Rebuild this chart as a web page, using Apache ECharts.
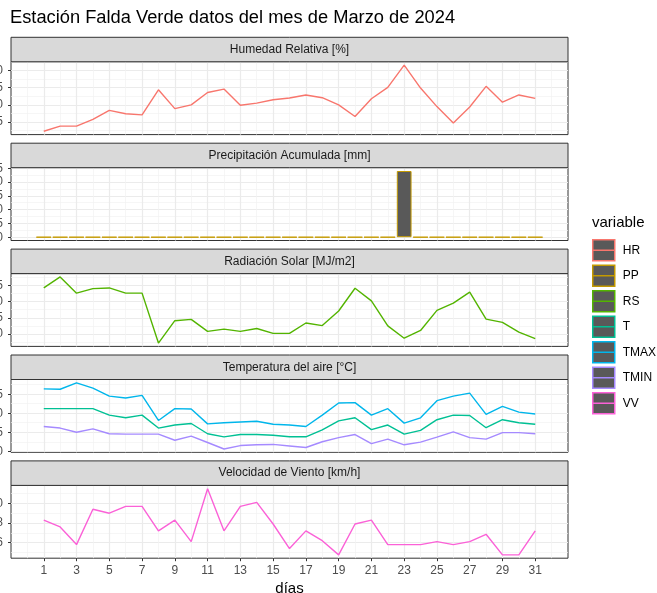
<!DOCTYPE html>
<html>
<head>
<meta charset="utf-8">
<script src="https://cdn.jsdelivr.net/npm/echarts@6.0.0/dist/echarts.min.js"></script>
<style>
  html, body { margin: 0; padding: 0; background: #fff; }
  #grafico { width: 657px; height: 593px; }
</style>
</head>
<body>
<div id="grafico"></div>
<script>
// datos diarios, marzo 2024
const dias = [1, 2, 3, 4, 5, 6, 7, 8, 9, 10, 11, 12, 13, 14, 15, 16, 17, 18, 19, 20, 21, 22, 23, 24, 25, 26, 27, 28, 29, 30, 31]
const hr = [62.3, 63.8, 63.8, 65.8, 68.4, 67.4, 67.1, 74.4, 68.9, 70.0, 73.6, 74.6, 69.9, 70.5, 71.5, 72.0, 72.9, 72.1, 70.0, 66.6, 71.8, 75.1, 81.6, 74.9, 69.5, 64.7, 69.4, 75.4, 70.8, 72.9, 71.9]
const pp = [0, 0, 0, 0, 0, 0, 0, 0, 0, 0, 0, 0, 0, 0, 0, 0, 0, 0, 0, 0, 0, 0, 2.4, 0, 0, 0, 0, 0, 0, 0, 0]
const rs = [24.2, 27.6, 22.6, 24.0, 24.2, 22.6, 22.6, 7.2, 14.1, 14.5, 10.8, 11.5, 10.8, 11.7, 10.2, 10.2, 13.4, 12.6, 17.1, 24.1, 20.2, 12.5, 8.7, 11.1, 17.3, 19.5, 22.9, 14.6, 13.6, 10.6, 8.6]
const t = [21.2, 21.2, 21.2, 21.2, 19.5, 18.8, 19.5, 16.1, 16.9, 17.3, 14.6, 13.8, 14.4, 14.4, 14.2, 13.8, 13.8, 15.6, 18.0, 18.8, 15.7, 16.9, 14.5, 15.5, 18.3, 19.5, 19.4, 16.2, 18.3, 17.5, 17.1]
const tmax = [26.4, 26.3, 28.0, 26.6, 24.5, 24.0, 24.7, 18.1, 21.2, 21.1, 17.2, 17.5, 17.7, 17.9, 17.1, 16.9, 16.5, 19.5, 22.7, 22.8, 19.5, 21.2, 17.4, 18.8, 23.3, 24.5, 25.3, 19.7, 21.8, 20.3, 19.8]
const tmin = [16.5, 16.1, 15.0, 15.9, 14.6, 14.5, 14.5, 14.5, 12.9, 14.0, 12.3, 10.6, 11.5, 11.7, 11.8, 11.4, 11.0, 12.5, 13.6, 14.4, 12.0, 13.2, 11.7, 12.4, 13.7, 15.1, 13.6, 13.2, 14.9, 14.9, 14.6]
const vv = [8.3, 7.6, 5.8, 9.4, 9.0, 9.7, 9.7, 7.2, 8.3, 6.1, 11.5, 7.2, 9.7, 10.1, 7.9, 5.4, 7.2, 6.2, 4.75, 7.9, 8.3, 5.8, 5.8, 5.8, 6.1, 5.8, 6.1, 6.85, 4.75, 4.75, 7.2]

// paneles y ejes
const titulos = ['Humedad Relativa [%]', 'Precipitación Acumulada [mm]', 'Radiación Solar [MJ/m2]', 'Temperatura del aire [°C]', 'Velocidad de Viento [km/h]']
const variablesPanel = [['HR'], ['PP'], ['RS'], ['T', 'TMAX', 'TMIN'], ['VV']]
const diasEje = [1, 3, 5, 7, 9, 11, 13, 15, 17, 19, 21, 23, 25, 27, 29, 31]
const ticksHR = [65, 70, 75, 80]
const ticksPP = [0, 0.5, 1, 1.5, 2, 2.5]
const ticksRS = [10, 15, 20, 25]
const ticksT = [10, 15, 20, 25]
const ticksVV = [6, 8, 10]
const ticksY = [ticksHR, ticksPP, ticksRS, ticksT, ticksVV]
const nombres = ['HR', 'PP', 'RS', 'T', 'TMAX', 'TMIN', 'VV']

const valores = { HR: hr, PP: pp, RS: rs, T: t, TMAX: tmax, TMIN: tmin, VV: vv }
const colores = { HR: '#F8766D', PP: '#C49A00', RS: '#53B400', T: '#00C094', TMAX: '#00B6EB', TMIN: '#A58AFF', VV: '#FB61D7' }

const IZQ = 11
const ANCHO = 557
const ALTO = 72.8
const FRANJA = 24.5
const FUENTE = '"Liberation Sans", Arial, Helvetica, sans-serif'

// rango como ggplot: 5% a cada lado
function rango(vals) {
  const lo = Math.min(...vals)
  const hi = Math.max(...vals)
  const p = (hi - lo) * 0.05
  return [lo - p, hi + p]
}
// lineas menores a mitad de camino
function menores(ticks) {
  const s = ticks[1] - ticks[0]
  const out = [ticks[0] - s / 2]
  ticks.forEach(v => out.push(v + s / 2))
  return out
}

const grid = []
const xAxis = []
const yAxis = []
const graphic = []
const series = []

titulos.forEach((titulo, i) => {
  const top = 61.8 + i * 105.9
  const ultimo = i === titulos.length - 1
  grid.push({
    left: IZQ, top: top, width: ANCHO, height: ALTO,
    show: true, borderColor: '#333333', borderWidth: 1,
    containLabel: false, outerBoundsMode: 'none'
  })
  // franja del panel
  graphic.push({
    type: 'rect', silent: true, z: 10,
    shape: { x: IZQ, y: top - FRANJA, width: ANCHO, height: FRANJA },
    style: { fill: '#D9D9D9', stroke: '#333333', lineWidth: 1 }
  })
  graphic.push({
    type: 'text', silent: true, z: 11,
    x: IZQ + ANCHO / 2, y: top - FRANJA / 2,
    style: { text: titulo, fill: '#1A1A1A', font: '12px ' + FUENTE, align: 'center', verticalAlign: 'middle' }
  })

  xAxis.push({
    type: 'value', gridIndex: i, min: -1, max: 33,
    axisLine: { show: false, onZero: false },
    axisTick: { show: ultimo, customValues: diasEje, length: 3, lineStyle: { color: '#333333', width: 1 } },
    axisLabel: { show: ultimo, customValues: diasEje, margin: 6, fontSize: 12, color: '#4D4D4D', fontFamily: FUENTE },
    splitLine: { show: true, lineStyle: { color: '#EBEBEB', width: 1.2 } },
    name: ultimo ? 'días' : '', nameLocation: 'middle', nameGap: 23,
    nameTextStyle: { fontSize: 15, color: '#000', fontFamily: FUENTE }
  })
  xAxis.push({
    type: 'value', gridIndex: i, min: -1, max: 33, position: 'bottom',
    axisLine: { show: false, onZero: false },
    axisTick: { show: false, customValues: menores(diasEje) },
    axisLabel: { show: false },
    splitLine: { show: true, lineStyle: { color: '#F2F2F2', width: 0.7 } }
  })

  const vals = [].concat(...variablesPanel[i].map(n => valores[n]))
  const [lo, hi] = rango(vals)
  const esPP = i === 1
  yAxis.push({
    type: 'value', gridIndex: i, min: lo, max: hi, position: 'left',
    axisLine: { show: false, onZero: false },
    axisTick: { show: true, customValues: ticksY[i], length: 3, lineStyle: { color: '#333333', width: 1 } },
    axisLabel: {
      customValues: ticksY[i], margin: 8, fontSize: 12, color: '#4D4D4D', fontFamily: FUENTE,
      formatter: v => esPP ? v.toFixed(1) : String(v)
    },
    splitLine: { show: true, lineStyle: { color: '#EBEBEB', width: 1.2 } }
  })
  yAxis.push({
    type: 'value', gridIndex: i, min: lo, max: hi, position: 'left',
    axisLine: { show: false, onZero: false },
    axisTick: { show: false, customValues: menores(ticksY[i]) },
    axisLabel: { show: false },
    splitLine: { show: true, lineStyle: { color: '#F2F2F2', width: 0.7 } }
  })

  variablesPanel[i].forEach(n => {
    const datos = dias.map((d, k) => [d, valores[n][k]])
    if (n === 'PP') {
      series.push({
        type: 'bar', name: n, xAxisIndex: 2 * i, yAxisIndex: 2 * i,
        data: datos, barWidth: 0.9 * ANCHO / 34, silent: true,
        itemStyle: { color: '#595959', borderColor: colores[n], borderWidth: 1 }
      })
    } else {
      series.push({
        type: 'line', name: n, xAxisIndex: 2 * i, yAxisIndex: 2 * i,
        data: datos, symbol: 'none', showSymbol: false, silent: true,
        lineStyle: { color: colores[n], width: 1.4 },
        itemStyle: { color: colores[n] }
      })
    }
  })
})

const chart = echarts.init(document.getElementById('grafico'), null, { renderer: 'canvas' })
chart.setOption({
  animation: false,
  backgroundColor: '#fff',
  textStyle: { fontFamily: FUENTE },
  title: [{
    text: 'Estación Falda Verde datos del mes de Marzo de 2024',
    left: 10, top: 9, padding: 0,
    textStyle: { fontSize: 18.3, fontWeight: 'normal', color: '#000', fontFamily: FUENTE }
  }, {
    text: 'variable',
    left: 592, top: 215, padding: 0,
    textStyle: { fontSize: 15, fontWeight: 'normal', color: '#000', fontFamily: FUENTE }
  }],
  legend: {
    orient: 'vertical', left: 592, top: 239, padding: 0,
    itemWidth: 22, itemHeight: 21, itemGap: 3,
    icon: 'path://M0,0L22,0L22,21L0,21Z M0,10.5L22,10.5',
    symbolKeepAspect: false,
    selectedMode: false,
    textStyle: { fontSize: 12, color: '#000', fontFamily: FUENTE, padding: [0, 0, 0, 3] },
    data: nombres.map(n => ({
      name: n,
      itemStyle: { color: '#595959', borderColor: colores[n], borderWidth: 1.5 }
    }))
  },
  tooltip: { show: false },
  grid: grid,
  xAxis: xAxis,
  yAxis: yAxis,
  graphic: graphic,
  series: series
})
</script>
</body>
</html>
